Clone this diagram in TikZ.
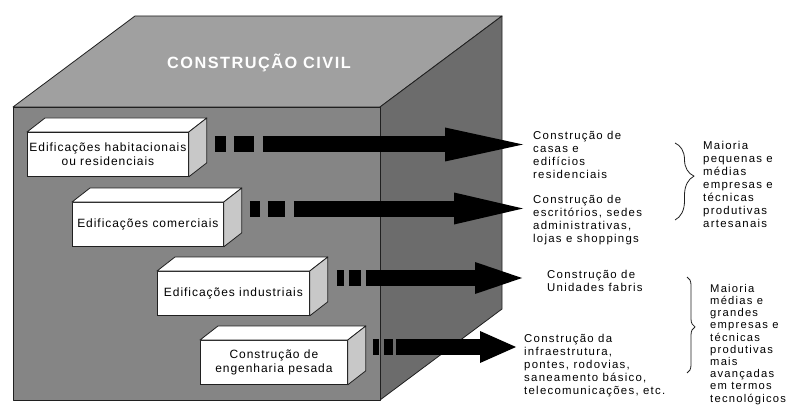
\documentclass[tikz,border=0pt]{standalone}
\usepackage{fontspec}
\setmainfont{Liberation Sans}
\newfontfamily\boxfont[LetterSpace=8]{Liberation Sans}
\newfontfamily\notefont[LetterSpace=11]{Liberation Sans}
\newfontfamily\titlefont[LetterSpace=9]{Liberation Sans}
\usetikzlibrary{arrows.meta,calc,decorations.pathreplacing}
\definecolor{cubetop}{HTML}{A0A0A0}
\definecolor{cubefront}{HTML}{858585}
\definecolor{cubeside}{HTML}{6C6C6C}
\definecolor{boxside}{HTML}{C8C8C8}
\definecolor{edge}{HTML}{202020}
\begin{document}
\begin{tikzpicture}[x=1pt,y=-1pt,
  face/.style={draw=edge,line width=0.8pt,line join=round},
  blockbox/.style={draw=edge,line width=0.8pt,fill=white,inner sep=0pt,anchor=north west,
    align=center,minimum height=44pt,font=\boxfont\fontsize{12}{13.5}\selectfont},
  note/.style={inner sep=0pt,anchor=north west,align=left,font=\notefont\fontsize{11.4}{13}\selectfont},
  blk/.style={line width=16pt,black},
  curly/.style={draw=edge,line width=0.8pt,decorate}]
\useasboundingbox (0,0) rectangle (790,409);
\clip (0,0) rectangle (790,409);

% the big cube
\coordinate (F1) at (13,107);
\coordinate (F2) at (380,107);
\coordinate (F3) at (380,400);
\coordinate (F4) at (13,400);
\filldraw[face,fill=cubetop] (F1) -- (F2) -- ++(122,-91) -- ($(F1)+(122,-91)$) -- cycle;
\filldraw[face,fill=cubeside] (F2) -- ++(122,-91) -- ++(0,293) -- (F3) -- cycle;
\filldraw[face,fill=cubefront] (F1) -- (F2) -- (F3) -- (F4) -- cycle;
\node[font=\titlefont\bfseries\fontsize{16.3}{18}\selectfont,text=white] (title) at (259,63) {CONSTRUÇÃO CIVIL};

% the four blocks
\node[blockbox,minimum width=161pt] (b1) at (27,132) {Edificações habitacionais\\ou residenciais};
\node[blockbox,minimum width=151pt] (b2) at (72,202) {Edificações comerciais};
\node[blockbox,minimum width=152pt] (b3) at (157,271) {Edificações industriais};
\node[blockbox,minimum width=147pt] (b4) at (200,340) {Construção de\\engenharia pesada};
\foreach \b in {b1,b2,b3,b4}{
  \filldraw[face,fill=white] (\b.north west) -- ++(18,-14) -- ($(\b.north east)+(18,-14)$) -- (\b.north east) -- cycle;
  \filldraw[face,fill=boxside] (\b.north east) -- ++(18,-14) -- ($(\b.south east)+(18,-14)$) -- (\b.south east) -- cycle;
}

% descriptions
\node[note] (t1) at (533,131) {Construção de\\casas e\\edifícios\\residenciais};
\node[note] (t2) at (533,195) {Construção de\\escritórios, sedes\\administrativas,\\lojas e shoppings};
\node[note] (t3) at (547,270) {Construção de\\Unidades fabris};
\node[note] (t4) at (524,334) {Construção da\\infraestrutura,\\pontes, rodovias,\\saneamento básico,\\telecomunicações, etc.};
\node[note] (m1) at (703,141) {Maioria\\pequenas e\\médias\\empresas e\\técnicas\\produtivas\\artesanais};
\node[note,font=\notefont\fontsize{11.2}{12.2}\selectfont] (m2) at (710,284) {Maioria\\médias e\\grandes\\empresas e\\técnicas\\produtivas\\mais\\avançadas\\em termos\\tecnológicos};

% block arrows
\coordinate (a1) at ($(b1.north east)+(26,12.5)$);
\coordinate (a2) at ($(b2.north east)+(26,6.5)$);
\coordinate (a3) at ($(b3.north east)+(27,7)$);
\coordinate (a4) at ($(b4.north east)+(25,7)$);
\draw[blk,dash pattern=on 11pt off 8pt on 20pt off 9pt on 600pt,
  -{Triangle[length=78pt,width=34pt,line width=0pt]}] (a1) -- ($(a1 -| t1.west)+(-10,0)$);
\draw[blk,dash pattern=on 10pt off 8pt on 17pt off 9pt on 600pt,
  -{Triangle[length=69pt,width=32pt,line width=0pt]}] (a2) -- ($(a2 -| t2.west)+(-10,0)$);
\draw[blk,dash pattern=on 7pt off 5pt on 12pt off 5pt on 600pt,
  -{Triangle[length=47pt,width=32pt,line width=0pt]}] (a3) -- ($(a3 -| t3.west)+(-25,0)$);
\draw[blk,dash pattern=on 6pt off 5pt on 9pt off 3pt on 600pt,
  -{Triangle[length=36pt,width=32pt,line width=0pt]}] (a4) -- ($(a4 -| t4.west)+(-8,0)$);

% braces
\draw[curly,decoration={brace,amplitude=19pt,aspect=0.43}] (675,143) -- (675,220);
\draw[curly,decoration={brace,amplitude=8pt,aspect=0.52}] (687,277) -- (687,373);
\end{tikzpicture}
\end{document}
